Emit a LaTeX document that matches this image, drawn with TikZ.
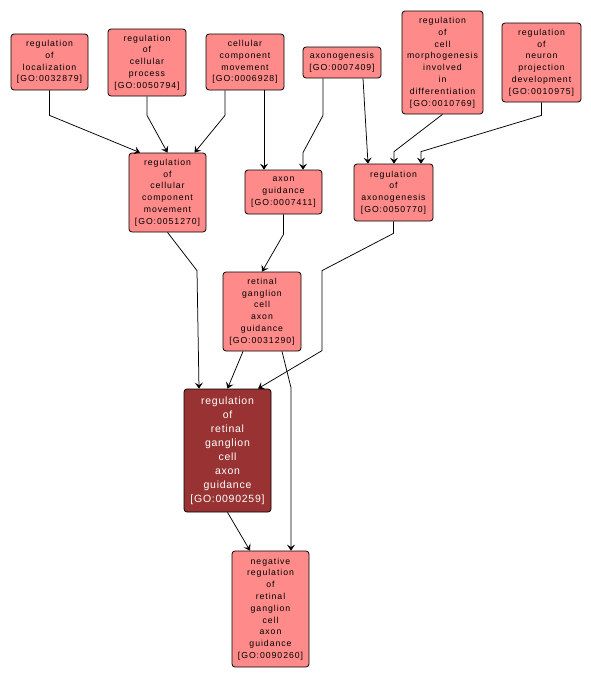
\documentclass[tikz,border=0pt]{standalone}
\usepackage{fontspec}
\setmainfont{Liberation Sans}
\newfontfamily\termfont[LetterSpace=11]{Liberation Sans}
\newfontfamily\focusfont[LetterSpace=7]{Liberation Sans}
\usepackage{tikz}
\usetikzlibrary{arrows.meta,calc}
\definecolor{termfill}{HTML}{FF8A8A}
\definecolor{focusfill}{HTML}{993333}
\tikzstyle{term} = [rectangle, draw, line width=0.75pt, fill=termfill, rounded corners=3pt, align=center, %
inner sep=0pt, minimum width=77pt, font=\termfont\fontsize{8.7}{11.8}\selectfont]
\tikzstyle{focus} = [term, fill=focusfill, text=white, font=\focusfont\fontsize{10.5}{14}\selectfont]
\tikzstyle{arrow} = [draw, line width=0.75pt, -{Stealth[length=6pt,width=8pt,inset=2.5pt]}]

\begin{document}
\begin{tikzpicture}[x=1pt, y=-1pt]
    \useasboundingbox[fill=white] (0,0) rectangle (591,678);
    % top row
    \node[term, minimum height=56pt] (loc) at (49.5,62) {regulation\\of\\localization\\{[GO:0032879]}};
    \node[term, minimum width=78pt, minimum height=67pt] (cproc) at (147,62.5) {regulation\\of\\cellular\\process\\{[GO:0050794]}};
    \node[term, minimum width=78pt, minimum height=56pt] (ccm) at (245,62) {cellular\\component\\movement\\{[GO:0006928]}};
    \node[term, minimum width=78pt, minimum height=31pt] (axg) at (342,62.5) {axonogenesis\\{[GO:0007409]}};
    \node[term, minimum width=81pt, minimum height=103pt] (cmorph) at (442.5,62.5) {regulation\\of\\cell\\morphogenesis\\involved\\in\\differentiation\\{[GO:0010769]}};
    \node[term, minimum width=79pt, minimum height=79pt] (nproj) at (541.5,62.5) {regulation\\of\\neuron\\projection\\development\\{[GO:0010975]}};
    % middle rows
    \node[term, minimum height=79pt] (rccm) at (167.5,192.5) {regulation\\of\\cellular\\component\\movement\\{[GO:0051270]}};
    \node[term, minimum height=44pt] (axguid) at (283.5,192) {axon\\guidance\\{[GO:0007411]}};
    \node[term, minimum width=79pt, minimum height=57pt] (raxg) at (393.5,192.5) {regulation\\of\\axonogenesis\\{[GO:0050770]}};
    \node[term, minimum width=78pt, minimum height=79pt] (rgc) at (262,311.5) {retinal\\ganglion\\cell\\axon\\guidance\\{[GO:0031290]}};
    \node[focus, minimum width=87pt, minimum height=123pt] (main) at (227.5,450.5) {regulation\\of\\retinal\\ganglion\\cell\\axon\\guidance\\{[GO:0090259]}};
    \node[term, minimum height=116pt] (neg) at (270.5,609) {negative\\regulation\\of\\retinal\\ganglion\\cell\\axon\\guidance\\{[GO:0090260]}};
    % draw arrows
    \path[arrow] (loc.south) -- ++(0,25) -- ($(rccm.north)-(27.5,0)$);
    \path[arrow] (cproc.south) -- ++(0,19) -- (rccm.north);
    \path[arrow] ($(ccm.south)-(20,0)$) -- ++(0,25) -- ($(rccm.north)+(27,0)$);
    \path[arrow] ($(ccm.south)+(19,0)$) -- ($(axguid.north)-(19.5,0)$);
    \path[arrow] ($(axg.south)-(19,0)$) -- ++(0,37) -- ($(axguid.north)+(19.5,-17)$) -- ($(axguid.north)+(19.5,0)$);
    \path[arrow] ($(axg.south)+(21,0)$) -- ($(raxg.north)-(25.5,0)$);
    \path[arrow] (cmorph.south) -- ($(raxg.north)+(0.5,-12)$) -- ($(raxg.north)+(0.5,0)$);
    \path[arrow] (nproj.south) -- ++(0,13) -- ($(raxg.north)+(27.5,-12)$) -- ($(raxg.north)+(27.5,0)$);
    \path[arrow] (rccm.south) -- ($(main.north)+(-30.5,-118)$) -- ($(main.north)-(28.5,0)$);
    \path[arrow] (axguid.south) -- ++(0,20) -- (rgc.north);
    \path[arrow] (raxg.south) -- ++(0,12) -- ($(main.north)+(94.5,-118)$) -- ($(main.north)+(94.5,-38)$) -- ($(main.north)+(30.5,0)$);
    \path[arrow] ($(rgc.south)-(19,0)$) -- (main.north);
    \path[arrow] ($(rgc.south)+(20,0)$) -- ($(neg.north)+(20.5,-163)$) -- ($(neg.north)+(20.5,0)$);
    \path[arrow] (main.south) -- ($(neg.north)-(20.5,0)$);
\end{tikzpicture}
\end{document}
